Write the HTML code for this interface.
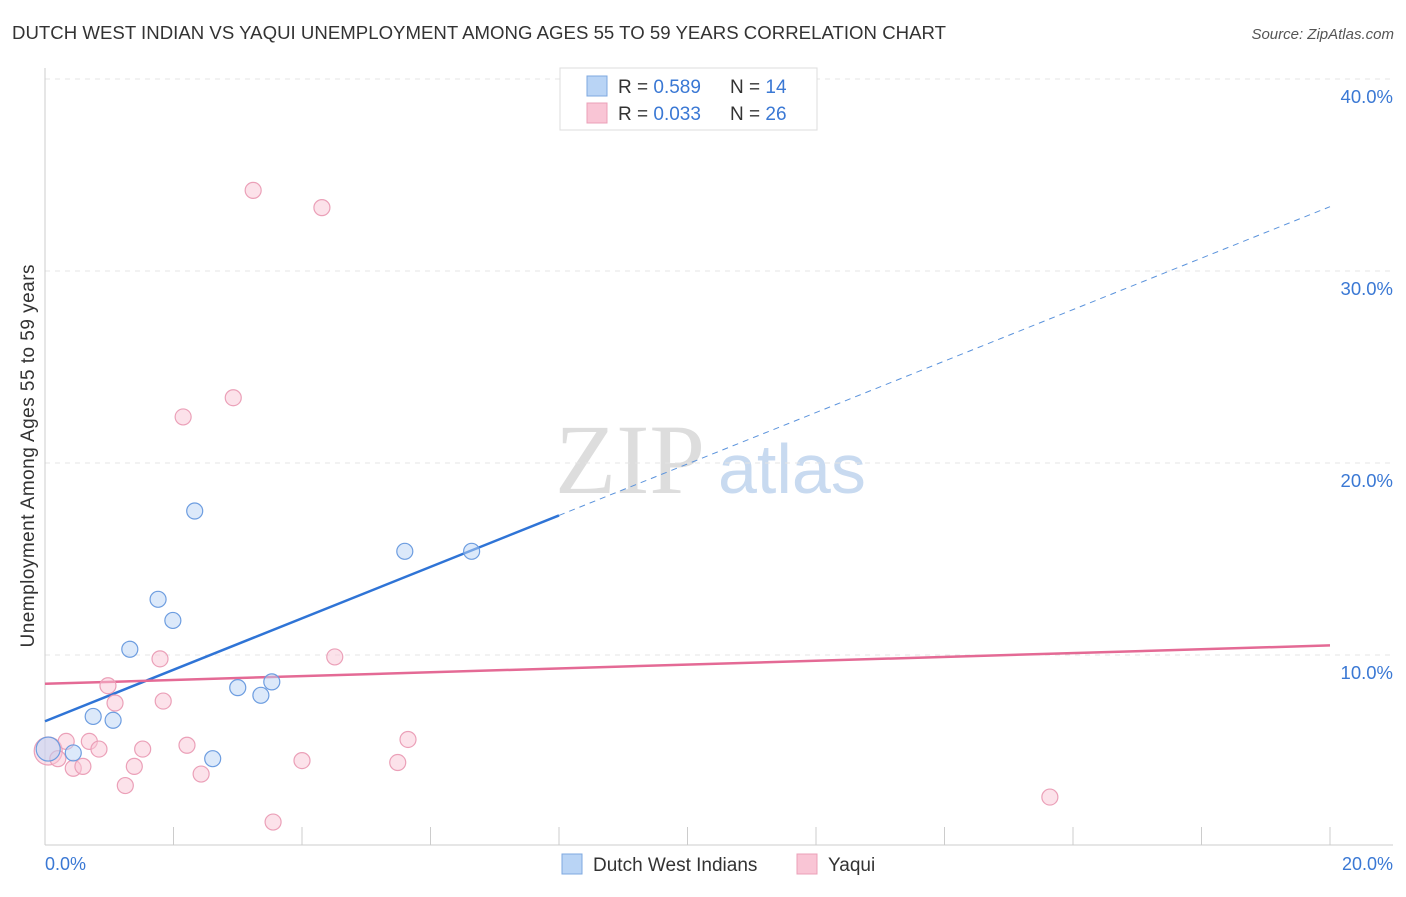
<!DOCTYPE html>
<html><head><meta charset="utf-8"><style>
body{margin:0;background:#fff;font-family:"Liberation Sans",sans-serif;}
</style></head><body>
<svg width="1406" height="892" font-family="Liberation Sans, sans-serif">
<text x="12" y="39" font-size="18.6" fill="#333" textLength="934">DUTCH WEST INDIAN VS YAQUI UNEMPLOYMENT AMONG AGES 55 TO 59 YEARS CORRELATION CHART</text>
<text x="1394" y="39" font-size="15" fill="#555" font-style="italic" text-anchor="end">Source: ZipAtlas.com</text>
<text x="555" y="493" font-size="100" fill="#ddd" font-family="Liberation Serif, serif">ZIP</text>
<text x="718" y="493" font-size="70" fill="#c8daf0">atlas</text>
<g id="grid"></g>
<g id="marks"></g>
<text transform="translate(34,456) rotate(-90)" font-size="19" fill="#333" text-anchor="middle" textLength="383">Unemployment Among Ages 55 to 59 years</text>
<text x="45" y="870" font-size="18" fill="#3a78d4">0.0%</text>
<text x="1393" y="870" font-size="18" fill="#3a78d4" text-anchor="end">20.0%</text>
<g>
<rect x="560" y="68" width="257" height="62" fill="#fff" stroke="#ddd"/>
<rect x="587" y="76" width="20" height="20" fill="#b9d4f5" stroke="#7ea8e0"/>
<rect x="587" y="103" width="20" height="20" fill="#f9c5d5" stroke="#eba0b8"/>
<text x="618" y="93" font-size="19" fill="#333">R = <tspan fill="#3a78d4">0.589</tspan></text>
<text x="730" y="93" font-size="19" fill="#333">N = <tspan fill="#3a78d4">14</tspan></text>
<text x="618" y="120" font-size="19" fill="#333">R = <tspan fill="#3a78d4">0.033</tspan></text>
<text x="730" y="120" font-size="19" fill="#333">N = <tspan fill="#3a78d4">26</tspan></text>
</g>
<g>
<rect x="562" y="854" width="20" height="20" fill="#b9d4f5" stroke="#7ea8e0"/>
<text x="593" y="871" font-size="19" fill="#333">Dutch West Indians</text>
<rect x="797" y="854" width="20" height="20" fill="#f9c5d5" stroke="#eba0b8"/>
<text x="828" y="871" font-size="19" fill="#333">Yaqui</text>
</g>
</svg>
<script>
const yTicks=[10,20,30,40];
const blueX=[0.05,0.44,0.75,1.06,1.32,1.76,1.99,2.33,2.61,3.0,3.36,3.53,5.6,6.64];
const blueY=[5.1,4.9,6.8,6.6,10.3,12.9,11.8,17.5,4.6,8.3,7.9,8.6,15.4,15.4];
const pinkX=[0.05,0.2,0.33,0.44,0.59,0.69,0.84,0.98,1.09,1.25,1.39,1.52,1.79,1.84,2.15,2.21,2.43,2.93,3.24,3.55,4.0,4.31,4.51,5.49,5.65,15.64];
const pinkY=[5.0,4.6,5.5,4.1,4.2,5.5,5.1,8.4,7.5,3.2,4.2,5.1,9.8,7.6,22.4,5.3,3.8,23.4,34.2,1.3,4.5,33.3,9.9,4.4,5.6,2.6];
const blueFit={a:6.55,b:1.34};
const pinkFit={a:8.5,b:0.1};
const X=v=>45+v*64.25, Y=v=>847-v*19.2;
const ns='http://www.w3.org/2000/svg';
function mk(tag,attrs,parent){const e=document.createElementNS(ns,tag);for(const k in attrs)e.setAttribute(k,attrs[k]);parent.appendChild(e);return e;}
const grid=document.getElementById('grid'), marks=document.getElementById('marks');
const svg=document.querySelector('svg');
yTicks.forEach(t=>{
 const l=mk('line',{x1:45,x2:1393,y1:Y(t),y2:Y(t),stroke:'#e4e4e4','stroke-dasharray':'5,5'},grid);
 
 
 const tx=mk('text',{x:1393,y:Y(t)+24,'font-size':18.5,fill:'#3a78d4','text-anchor':'end'},svg);
 tx.textContent=t.toFixed(1)+'%';
 
 
});
mk('line',{x1:45,x2:45,y1:68,y2:845,stroke:'#ccc'},grid);
mk('line',{x1:45,x2:1393,y1:845,y2:845,stroke:'#ccc'},grid);
for(let i=0;i<=10;i++){mk('line',{x1:X(i*2),x2:X(i*2),y1:827,y2:845,stroke:'#ccc'},grid);}
const bl=mk('line',{x1:X(0),y1:Y(blueFit.a),x2:X(8),y2:Y(blueFit.a+blueFit.b*8),stroke:'#2f74d6','stroke-width':2.5},marks);


const bd=mk('line',{x1:X(8),y1:Y(blueFit.a+blueFit.b*8),x2:X(20),y2:Y(blueFit.a+blueFit.b*20),stroke:'#5b93dc','stroke-width':1,'stroke-dasharray':'6,5'},marks);


const pl=mk('line',{x1:X(0),y1:Y(pinkFit.a),x2:X(20),y2:Y(pinkFit.a+pinkFit.b*20),stroke:'#e46a95','stroke-width':2.5},marks);


pinkX.forEach((x,i)=>{const c=mk('circle',{cx:X(x),cy:Y(pinkY[i]),r:i==0?14:8,fill:'#f9c5d5','fill-opacity':0.5,stroke:'#eba0b8','stroke-width':1.2},marks);
 
 });
blueX.forEach((x,i)=>{const c=mk('circle',{cx:X(x),cy:Y(blueY[i]),r:i==0?12:8,fill:'#b9d4f5','fill-opacity':0.5,stroke:'#6d9de0','stroke-width':1.2},marks);
 
 });
</script>
</body></html>
